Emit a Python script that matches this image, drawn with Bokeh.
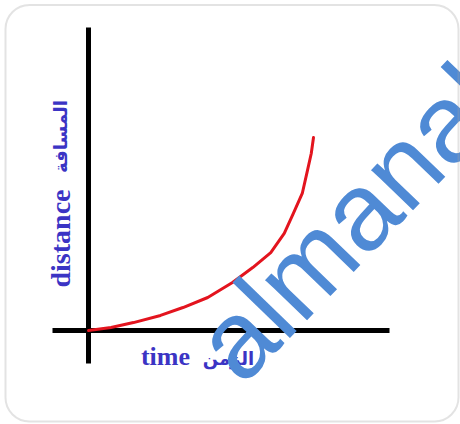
import math
from bokeh.plotting import figure
from bokeh.models import Range1d, BoxAnnotation
from bokeh.core.properties import value
from bokeh.embed import file_html
from bokeh.resources import INLINE

# ---- data ----
time = [0.0, 1.0, 2.0, 3.2, 4.2, 5.3, 6.4, 7.3, 8.1, 8.7, 9.1, 9.5, 9.7, 9.9, 10.0]
distance = [0.0, 0.16, 0.41, 0.78, 1.19, 1.71, 2.49, 3.26, 4.04, 5.03, 6.06, 7.10, 8.13, 9.17, 10.0]
x_label_en = "time"
x_label_ar = "الزمن"
y_label_en = "distance"
y_label_ar = "المسافة"
watermark = "almanahj"

# ---- layout (pixel scale of the drawing) ----
W, H = 460, 424
OX, OY = 88, 330          # pixel position of the origin
KX, KY = 22.5, 19.3       # pixels per data unit


def tx(px):
    return (px - OX) / KX


def ty(py):
    return (OY - py) / KY


p = figure(width=W, height=H, output_backend="svg", toolbar_location=None,
           x_range=Range1d(tx(0), tx(W)), y_range=Range1d(ty(H), ty(0)),
           min_border=0, x_axis_location=None, y_axis_location=None,
           background_fill_color="white", border_fill_color="white")
p.grid.visible = False
p.outline_line_color = None

# rounded frame
p.add_layout(BoxAnnotation(left=tx(5), right=tx(458), top=ty(4.5), bottom=ty(421),
                           fill_alpha=0, line_color="#a3a3a3", line_width=2,
                           border_radius=24))

# axes lines
p.segment(x0=[tx(52)], y0=[0], x1=[tx(389)], y1=[0], line_color="black", line_width=5)
p.segment(x0=[0], y0=[ty(363)], x1=[0], y1=[ty(27)], line_color="black", line_width=5)

# curve
p.line(time, distance, line_color="#e3141e", line_width=3,
       line_join="round", line_cap="round")

blue = "#3b34c4"
p.text(x=[tx(60)], y=[ty(238)], text=[y_label_en], angle=math.pi / 2,
       text_align="center", text_baseline="middle", text_font=value("Liberation Serif"),
       text_font_style="bold", text_font_size="28px", text_color=blue)
p.text(x=[tx(60)], y=[ty(136)], text=[y_label_ar], angle=math.pi / 2,
       text_align="center", text_baseline="middle", text_font=value("DejaVu Sans"),
       text_font_style="bold", text_font_size="18px", text_color=blue)
p.text(x=[tx(165)], y=[ty(356)], text=[x_label_en],
       text_align="center", text_baseline="middle", text_font=value("Liberation Serif"),
       text_font_style="bold", text_font_size="26px", text_color=blue)
p.text(x=[tx(228)], y=[ty(358)], text=[x_label_ar],
       text_align="center", text_baseline="middle", text_font=value("DejaVu Sans"),
       text_font_style="bold", text_font_size="18px", text_color=blue)

# watermark
p.text(x=[tx(214)], y=[ty(360)], text=[watermark], angle=math.radians(46),
       text_align="left", text_baseline="alphabetic", text_font=value("Liberation Sans"),
       text_font_size="110px", text_color="#4f8ad5")

open("out.html", "w").write(file_html(p, INLINE))
